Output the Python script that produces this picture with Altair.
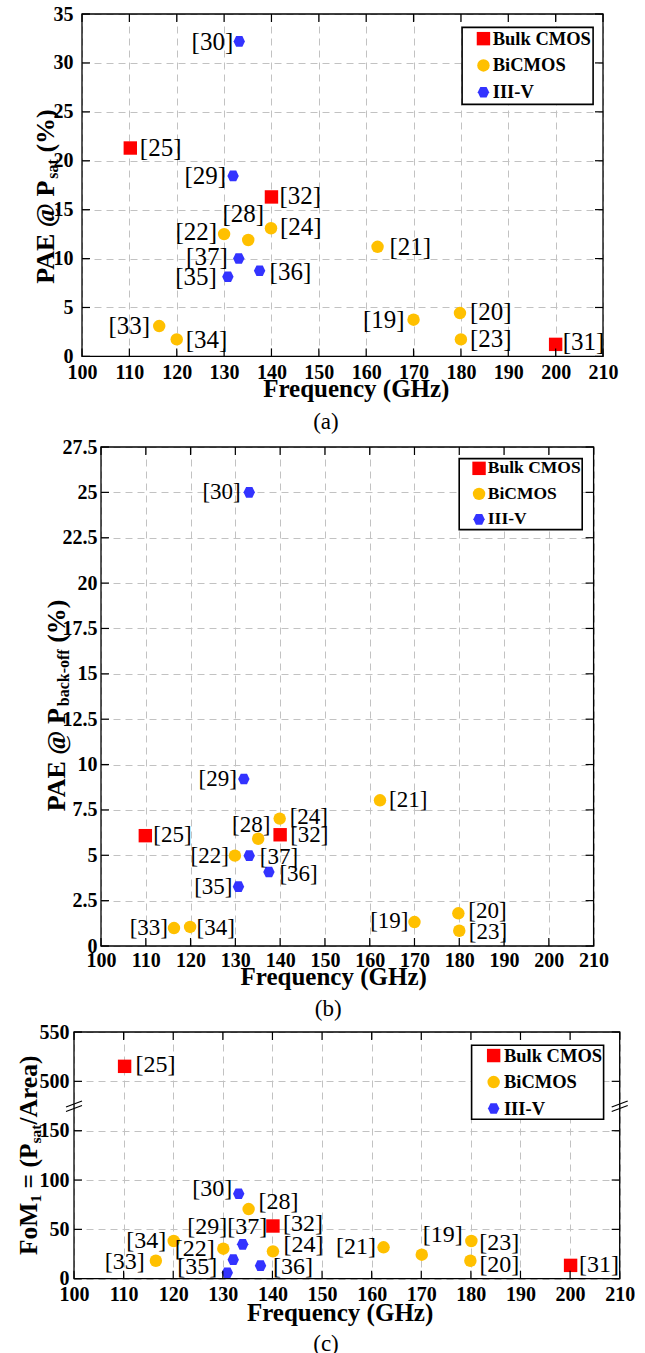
import altair as alt
import pandas as pd

# ---------------- data ----------------
REFS = ["[19]", "[20]", "[21]", "[22]", "[23]", "[24]", "[25]", "[28]", "[29]",
        "[30]", "[31]", "[32]", "[33]", "[34]", "[35]", "[36]", "[37]"]
TECH = ["BiCMOS", "BiCMOS", "BiCMOS", "BiCMOS", "BiCMOS", "BiCMOS", "Bulk CMOS",
        "BiCMOS", "III-V", "III-V", "Bulk CMOS", "Bulk CMOS", "BiCMOS", "BiCMOS",
        "III-V", "III-V", "III-V"]

# (a) PAE @ Psat
FREQ_A = [170.0, 179.8, 162.4, 130.0, 180.0, 139.9, 110.2, 135.1, 131.9,
          133.2, 200.0, 140.0, 116.3, 120.0, 130.8, 137.5, 133.1]
PAE_SAT = [3.75, 4.43, 11.2, 12.5, 1.74, 13.1, 21.3, 11.9, 18.45,
           32.2, 1.23, 16.3, 3.1, 1.74, 8.14, 8.75, 10.0]

# (b) PAE @ Pback-off  ([31] not reported)
FREQ_B = [170.0, 179.8, 162.3, 129.9, 180.0, 139.9, 109.9, 135.1, 131.9,
          133.1, None, 140.0, 116.3, 119.9, 130.7, 137.5, 133.1]
PAE_BO = [1.32, 1.8, 8.03, 4.98, 0.84, 7.02, 6.08, 5.91, 9.2,
          25.0, None, 6.13, 0.99, 1.05, 3.27, 4.08, 4.98]

# (c) FoM1 = Psat / Area
FREQ_C = [170.1, 179.9, 162.4, 130.1, 180.1, 140.1, 110.2, 135.2, 132.1,
          133.2, 200.1, 140.1, 116.5, 120.1, 130.9, 137.6, 134.0]
FOM1 = [24.3, 18.2, 31.8, 30.4, 38.2, 27.7, 515.2, 70.6, 19.3,
        86.1, 13.5, 53.4, 18.2, 38.2, 6.1, 13.2, 34.8]

CATEGORIES = ["Bulk CMOS", "BiCMOS", "III-V"]
X_TICKS = [100, 110, 120, 130, 140, 150, 160, 170, 180, 190, 200, 210]
Y_TICKS_A = [0, 5, 10, 15, 20, 25, 30, 35]
Y_TICKS_B = [0, 2.5, 5, 7.5, 10, 12.5, 15, 17.5, 20, 22.5, 25, 27.5]
Y_TICKS_C = [0, 50, 100, 150, 500, 550]
C_GAP = 300          # broken axis in (c): 175..475 removed
C_BREAK = 175

# ---------------- styles ----------------
FONT = "Liberation Serif"
COLORS = ["#FF0000", "#FFC000", "#3333FF"]
HEX = "M-1,0L-0.55,-0.93L0.55,-0.93L1,0L0.55,0.93L-0.55,0.93Z"
SHAPES = ["square", "circle", HEX]
SIZES = [180, 130, 165]
GRID = "#c2c2c2"
A = 62  # invisible left anchor distance

# label placement: (align, dx, dy) in pixels
LAB_A = {
    "[19]": ("right", -9, 0), "[20]": ("left", 10, -1), "[21]": ("left", 12, 0),
    "[22]": ("right", -7, -2), "[23]": ("left", 9, 0), "[24]": ("left", 9, -1),
    "[25]": ("left", 9.5, 0), "[28]": ("center", -5, -26), "[29]": ("right", -7, 0),
    "[30]": ("right", -6, 1), "[31]": ("left", 7, -2), "[32]": ("left", 8, -1),
    "[33]": ("right", -9, 0), "[34]": ("left", 9, 1), "[35]": ("right", -11, 0),
    "[36]": ("left", 10, 1), "[37]": ("right", -11, -2),
}
LAB_B = {
    "[19]": ("right", -6, -1), "[20]": ("left", 10, -2), "[21]": ("left", 9, 0),
    "[22]": ("right", -6, 0), "[23]": ("left", 9.5, 1), "[24]": ("left", 10, -2),
    "[25]": ("left", 8, -1), "[28]": ("center", -7, -14), "[29]": ("right", -7, 0),
    "[30]": ("right", -8.5, 0), "[32]": ("left", 10, 0), "[33]": ("right", -6, 0),
    "[34]": ("left", 6.5, 1), "[35]": ("right", -6, 0), "[36]": ("left", 10.5, 2),
    "[37]": ("left", 10.5, 1.5),
}
LAB_C = {
    "[19]": ("left", 1, -20), "[20]": ("left", 9, 4.7), "[21]": ("right", -7.5, 0),
    "[22]": ("right", -8.5, 0), "[23]": ("left", 8, 1.7), "[24]": ("left", 10.5, -6),
    "[25]": ("left", 11, -1), "[28]": ("left", 10, -7), "[29]": ("right", -6, -33),
    "[30]": ("right", -6.5, -5), "[31]": ("left", 8.5, 0), "[32]": ("left", 10, -2.3),
    "[33]": ("right", -11, 1), "[34]": ("right", -7.5, 0), "[35]": ("right", -10, -6),
    "[36]": ("left", 12.5, 1.3), "[37]": ("center", 4.5, -17),
}

# Times/Liberation Serif Bold advance widths (1/1000 em)
BOLD_W = {' ': 250, '(': 333, ')': 333, '%': 1000, '@': 930, 'A': 722, 'E': 667,
          'P': 611, 'F': 611, 'M': 944, 'o': 500, '=': 570, '/': 278, 'r': 444,
          'e': 444, 'a': 500, 's': 389, 't': 333, 'b': 556, 'c': 444, 'k': 556,
          '-': 333, 'f': 333, '1': 500}


def title_pieces(parts, F, Fs, sub_dy):
    rows, pos = [], 0.0
    for txt, sub in parts:
        fs = Fs if sub else F
        lead = len(txt) - len(txt.lstrip(' '))
        start = pos + lead * BOLD_W[' '] * fs / 1000.0
        rows.append({"t": txt.strip(' '), "dx": start, "dy": sub_dy if sub else 0, "fs": fs})
        pos += sum(BOLD_W[c] for c in txt) * fs / 1000.0
    return pd.DataFrame(rows)


ONE = pd.DataFrame({"k": [0]})


def make_panel(freq, vals, labs, *, W, H, tp, bp, ydom, yticks, ylabpad, ylab_expr,
               xlabpad, xt_x, xt_y, leg, cap, cap_xy, ytitle, yt_xy,
               lab_size, folded=False):
    rows = []
    for r, t, f, v in zip(REFS, TECH, freq, vals):
        if f is None:
            continue
        al, dx, dy = labs[r]
        yv = v - C_GAP if (folded and v > C_BREAK) else v
        rows.append(dict(ref=r, tech=t, f=f, v=yv, al=al, dx=dx, dy=dy))
    df = pd.DataFrame(rows)
    yt_plot = [(y - C_GAP if (folded and y > C_BREAK) else y) for y in yticks]

    xs = alt.Scale(domain=[100, 210], nice=False, zero=False)
    ys = alt.Scale(domain=ydom, nice=False, zero=False)

    legend = alt.Legend(
        title=None, orient="none", direction="vertical",
        legendX=leg["x"], legendY=leg["y"], padding=leg["pad"],
        rowPadding=leg["rp"], labelFontSize=leg["fs"], labelFont=FONT,
        labelFontWeight="bold", labelColor="black", labelLimit=0,
        symbolSize=150, symbolStrokeWidth=0, symbolOffset=leg["so"],
        labelOffset=leg["lo"], strokeColor="black", fillColor="white",
    )

    X = lambda: alt.X("f:Q", scale=xs)
    Y = lambda: alt.Y("v:Q", scale=ys)

    points = alt.Chart(df).mark_point(filled=True, opacity=1, strokeWidth=0).encode(
        x=alt.X("f:Q", scale=xs, axis=alt.Axis(
            values=X_TICKS, grid=True, labelPadding=xlabpad,
            title="Frequency (GHz)", titleX=xt_x, titleY=xt_y,
            titleAlign="center", titleBaseline="alphabetic")),
        y=alt.Y("v:Q", scale=ys, axis=alt.Axis(
            values=yt_plot, grid=True, labelPadding=ylabpad, labelExpr=ylab_expr,
            title=None)),
        color=alt.Color("tech:N", scale=alt.Scale(domain=CATEGORIES, range=COLORS), legend=legend),
        shape=alt.Shape("tech:N", scale=alt.Scale(domain=CATEGORIES, range=SHAPES), legend=legend),
        size=alt.Size("tech:N", scale=alt.Scale(domain=CATEGORIES, range=SIZES), legend=None),
    )

    labels = alt.Chart(df).mark_text(
        font=FONT, fontSize=lab_size, baseline="middle", color="black",
        align=alt.ExprRef(expr="datum.al"), dx=alt.ExprRef(expr="datum.dx"),
        dy=alt.ExprRef(expr="datum.dy"),
    ).encode(x=X(), y=Y(), text="ref:N")

    frame = alt.Chart(ONE).mark_rect(fill="transparent", stroke="black", strokeWidth=1.3).encode(
        x=alt.value(0), x2=alt.value(W), y=alt.value(0), y2=alt.value(H))

    tx = pd.DataFrame({"f": X_TICKS})
    ty = pd.DataFrame({"v": yt_plot})
    tk = dict(color="black", strokeWidth=1.2)
    ticks = [
        alt.Chart(tx).mark_rule(**tk).encode(x=X(), y=alt.value(H), y2=alt.value(H - 8)),
        alt.Chart(tx).mark_rule(**tk).encode(x=X(), y=alt.value(0), y2=alt.value(8)),
        alt.Chart(ty).mark_rule(**tk).encode(y=Y(), x=alt.value(0), x2=alt.value(8)),
        alt.Chart(ty).mark_rule(**tk).encode(y=Y(), x=alt.value(W), x2=alt.value(W - 8)),
    ]

    anchor = alt.Chart(ONE).mark_rule(opacity=0).encode(
        x=alt.value(-A), y=alt.value(-tp), y2=alt.value(H + bp))

    caption = alt.Chart(ONE).mark_text(font=FONT, fontSize=23, align="center",
                                       baseline="middle", color="black").encode(
        x=alt.value(cap_xy[0]), y=alt.value(cap_xy[1]), text=alt.value(cap))

    yt = alt.Chart(ytitle).mark_text(
        font=FONT, fontWeight="bold", angle=270, align="left", baseline="alphabetic",
        color="black", dx=alt.ExprRef(expr="datum.dx"), dy=alt.ExprRef(expr="datum.dy"),
        fontSize=alt.ExprRef(expr="datum.fs"),
    ).encode(x=alt.value(yt_xy[0]), y=alt.value(yt_xy[1]), text="t:N")

    layers = [points, anchor, frame] + ticks + [labels, yt, caption]

    if folded:
        for xpos in (0, W):
            for off in (0, 4.5):
                layers.append(alt.Chart(ONE).mark_rule(
                    color="black", strokeWidth=1.2, xOffset=-8, x2Offset=8,
                    yOffset=1 + off, y2Offset=-5 + off).encode(
                    x=alt.value(xpos), x2=alt.value(xpos),
                    y=alt.YDatum(C_BREAK, scale=ys), y2=alt.Y2Datum(C_BREAK)))

    return alt.layer(*layers).properties(width=W, height=H)


def row(spacer_w, panel):
    sp = alt.Chart(ONE).mark_rect(opacity=0).encode(
        x=alt.value(0), x2=alt.value(spacer_w), y=alt.value(0), y2=alt.value(1)
    ).properties(width=spacer_w, height=1)
    return alt.hconcat(sp, panel, spacing=0).resolve_scale(
        color="independent", shape="independent", size="independent")


# ---------------- panels ----------------
yt_a = title_pieces([("PAE @ P", False), ("sat", True), (" (%)", False)], 26, 16, 4)
yt_b = title_pieces([("PAE @ P", False), ("back-off", True), (" (%)", False)], 26, 16, 4)
yt_c = title_pieces([("FoM", False), ("1", True), (" = (P", False), ("sat", True),
                     ("/Area)", False)], 25.5, 15.5, 4)

pa = make_panel(FREQ_A, PAE_SAT, LAB_A, W=521, H=342.4, tp=13.3, bp=79,
                ydom=[0, 35], yticks=Y_TICKS_A, ylabpad=9,
                ylab_expr="'' + datum.value",
                xlabpad=6.3, xt_x=273.8, xt_y=40,
                leg=dict(x=380.1, y=13.4, pad=2, rp=7.8, fs=18.5, so=10.1, lo=0),
                cap="(a)", cap_xy=(243.9, 408.4), ytitle=yt_a, yt_xy=(-28.2, 269.7),
                lab_size=25)
pb = make_panel(FREQ_B, PAE_BO, LAB_B, W=492.6, H=499, tp=11, bp=75.3,
                ydom=[0, 27.5], yticks=Y_TICKS_B, ylabpad=4,
                ylab_expr="'' + datum.value",
                xlabpad=4.2, xt_x=232.2, xt_y=38.5,
                leg=dict(x=358.2, y=11.6, pad=1, rp=6.5, fs=17.5, so=10.1, lo=0),
                cap="(b)", cap_xy=(227.2, 562), ytitle=yt_b, yt_xy=(-36.3, 364.3),
                lab_size=23)
pc = make_panel(FREQ_C, FOM1, LAB_C, W=545.7, H=246.7, tp=10, bp=76.3,
                ydom=[0, 250], yticks=Y_TICKS_C, ylabpad=5,
                ylab_expr="datum.value > 175 ? '' + (datum.value + 300) : '' + datum.value",
                xlabpad=6, xt_x=265.6, xt_y=41.3,
                leg=dict(x=397.6, y=13.3, pad=1, rp=7.5, fs=18.5, so=11.8, lo=1),
                cap="(c)", cap_xy=(252, 311.7), ytitle=yt_c, yt_xy=(-37, 223),
                lab_size=24, folded=True)

chart = alt.vconcat(
    row(81.7 - A, pa), row(100.3 - A, pb), row(74 - A, pc), spacing=0
).resolve_scale(
    color="independent", shape="independent", size="independent"
).properties(padding=0).configure_view(stroke=None).configure_axis(
    labelFont=FONT, labelFontSize=20, labelFontWeight="bold", labelColor="black",
    titleFont=FONT, titleFontSize=25, titleFontWeight="bold", titleColor="black",
    gridDash=[7, 5], gridColor=GRID, gridWidth=1, gridOpacity=1,
    domain=False, ticks=False, labelFlush=False, labelOverlap=False,
).configure_legend(strokeWidth=1.6)

chart.save("out.html", embed_options={"renderer": "svg", "actions": False})
